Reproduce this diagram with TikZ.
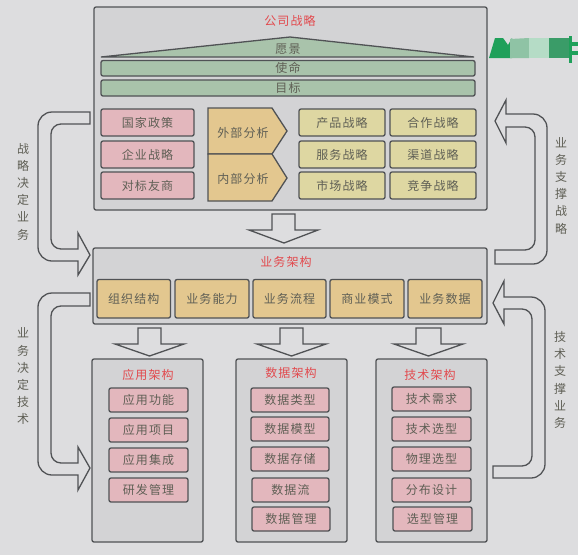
\documentclass[tikz,border=0pt]{standalone}
\usepackage{fontspec}
\setmainfont[LetterSpace=9]{Noto Sans CJK SC}
\definecolor{bgc}{HTML}{DDDDDF}
\definecolor{panelc}{HTML}{D3D3D5}
\definecolor{linec}{HTML}{505255}
\definecolor{pinkc}{HTML}{E3B7BD}
\definecolor{greenc}{HTML}{A9C3AB}
\definecolor{orangec}{HTML}{E3C78F}
\definecolor{yellowc}{HTML}{DED7A2}
\definecolor{textc}{HTML}{5F5F55}
\definecolor{redc}{HTML}{E2494D}
\definecolor{wma}{HTML}{1FA05A}
\definecolor{wmb}{HTML}{8FC3A5}
\definecolor{wmc}{HTML}{B5DCC6}
\definecolor{wmd}{HTML}{3A9C68}
\tikzset{
  x=1pt,y=-1pt,
  base/.style={draw=linec,line width=1.3pt,rounded corners=2pt,inner sep=0pt,text=textc,font=\fontsize{12}{13}\selectfont},
  panel/.style={base,fill=panelc},
  pinkbox/.style={base,fill=pinkc},
  greenbar/.style={base,fill=greenc},
  orangebox/.style={base,fill=orangec},
  yellowbox/.style={base,fill=yellowc},
  labeltext/.style={text=textc,inner sep=0pt,font=\fontsize{12}{13}\selectfont},
  titletext/.style={text=redc,inner sep=0pt,font=\fontsize{12}{13}\selectfont},
  sidetext/.style={text=textc,inner sep=0pt,align=center,font=\fontsize{12}{17.2}\selectfont},
  blockarrow/.style={draw=linec,line width=1.3pt,fill=bgc,line join=miter},
}
% name, style, x1, y1, x2, y2, text
\newcommand{\bx}[7]{\node[#2,minimum width=#5pt-#3pt,minimum height=#6pt-#4pt] (#1) at ({(#3+#5)/2},{(#4+#6)/2}) {#7};}
% stem left, stem right, head left, head right, tip x, top, shoulder, tip y
\newcommand{\downarr}[8]{\draw[blockarrow] (#1,#6)--(#2,#6)--(#2,#7)--(#4,#7)--(#5,#8)--(#3,#7)--(#1,#7)--cycle;}
% curved arrow pointing right: tail x, outer top, inner top, outer x, inner x, inner bottom, outer bottom, head x, head top, tip x, tip y, head bottom
\newcommand{\rightcurve}[9]{\def\argA{#1}\def\argB{#2}\def\argC{#3}\def\argD{#4}\def\argE{#5}\def\argF{#6}\def\argG{#7}\def\argH{#8}\def\argI{#9}\rightcurveB}
\newcommand{\rightcurveB}[3]{\draw[blockarrow] (\argA,\argB) -- (\argD+14,\argB) to[out=180,in=90,looseness=1] (\argD,\argB+14) -- (\argD,\argG-14) to[out=-90,in=180] (\argD+14,\argG) -- (\argH,\argG) -- (\argH,#3) -- (#1,#2) -- (\argH,\argI) -- (\argH,\argF) -- (\argE+10,\argF) to[out=180,in=-90] (\argE,\argF-10) -- (\argE,\argC+10) to[out=90,in=180] (\argE+10,\argC) -- (\argA,\argC) -- cycle;}
\newcommand{\leftcurve}[9]{\def\argA{#1}\def\argB{#2}\def\argC{#3}\def\argD{#4}\def\argE{#5}\def\argF{#6}\def\argG{#7}\def\argH{#8}\def\argI{#9}\leftcurveB}
\newcommand{\leftcurveB}[3]{\draw[blockarrow] (\argA,\argG) -- (\argD-14,\argG) to[out=0,in=-90] (\argD,\argG-14) -- (\argD,\argB+14) to[out=90,in=0] (\argD-14,\argB) -- (\argH,\argB) -- (\argH,\argI) -- (#1,#2) -- (\argH,#3) -- (\argH,\argC) -- (\argE-10,\argC) to[out=0,in=90] (\argE,\argC+10) -- (\argE,\argF-10) to[out=-90,in=0] (\argE-10,\argF) -- (\argA,\argF) -- cycle;}
\begin{document}
\begin{tikzpicture}
\useasboundingbox (0,0) rectangle (578,555);
\fill[bgc] (0,0) rectangle (578,555);
% watermark fragment
\fill[wma] (489,58)--(495,38)--(503,38)--(508,45)--(512,38)--(512,58)--cycle;
\fill[wmb] (510,39)--(529,38)--(529,58)--(510,58)--cycle;
\fill[wmc] (529,38)--(549,38)--(549,58)--(529,58)--cycle;
\fill[wmd] (549,38)--(569,38)--(569,58)--(549,58)--cycle;
\fill[wma] (569,36) rectangle (572,63);
\fill[wma] (572,42) rectangle (578,46);
\fill[wma] (572,51) rectangle (578,55);

% top panel
\bx{company}{panel}{94}{7}{487}{210}{}
\node[titletext] (companyT) at (290,21) {公司战略};
\draw[base,fill=greenc,rounded corners=0pt] (101,57)--(290,37)--(474,57)--cycle;
\node[labeltext] (vision) at (288,49) {愿景};
\bx{mission}{greenbar}{101}{60.5}{475}{76}{使命}
\bx{goal}{greenbar}{101}{80}{475}{96}{目标}
\bx{p1}{pinkbox}{101}{109}{194}{136}{国家政策}
\bx{p2}{pinkbox}{101}{141}{194}{168}{企业战略}
\bx{p3}{pinkbox}{101}{172}{194}{199}{对标友商}
\draw[base,fill=orangec,rounded corners=0pt] (208,108)--(272,108)--(287,131)--(272,154)--(208,154)--cycle;
\draw[base,fill=orangec,rounded corners=0pt] (208,154)--(272,154)--(287,178)--(272,201)--(208,201)--cycle;
\node[labeltext] (ext) at (243,133) {外部分析};
\node[labeltext] (int) at (243,179) {内部分析};
\bx{y1}{yellowbox}{299}{109}{385}{136}{产品战略}
\bx{y2}{yellowbox}{299}{141}{385}{168}{服务战略}
\bx{y3}{yellowbox}{299}{172}{385}{199}{市场战略}
\bx{y4}{yellowbox}{390}{109}{476}{136}{合作战略}
\bx{y5}{yellowbox}{390}{141}{476}{168}{渠道战略}
\bx{y6}{yellowbox}{390}{172}{476}{199}{竞争战略}

\downarr{272}{295}{249}{318}{284}{214}{230}{243}

% middle panel
\bx{business}{panel}{93}{248}{487}{324}{}
\node[titletext] (businessT) at (286,262) {业务架构};
\bx{b1}{orangebox}{97}{279.5}{170.5}{318}{组织结构}
\bx{b2}{orangebox}{175}{279.5}{249}{318}{业务能力}
\bx{b3}{orangebox}{253}{279.5}{326}{318}{业务流程}
\bx{b4}{orangebox}{330}{279.5}{404}{318}{商业模式}
\bx{b5}{orangebox}{408}{279.5}{482}{318}{业务数据}

\downarr{138}{161}{115}{184}{149.5}{328}{344}{356}
\downarr{280}{303}{257}{326}{291.5}{328}{344}{356}
\downarr{416}{441}{394}{463}{428.5}{328}{344}{356}

% application
\bx{app}{panel}{92}{359}{203}{542}{}
\node[titletext] (appT) at (148,375) {应用架构};
\bx{a1}{pinkbox}{109}{388}{188}{412}{应用功能}
\bx{a2}{pinkbox}{109}{418}{188}{442}{应用项目}
\bx{a3}{pinkbox}{109}{448}{188}{472}{应用集成}
\bx{a4}{pinkbox}{109}{478}{188}{502}{研发管理}
% data
\bx{data}{panel}{236}{359}{347}{542}{}
\node[titletext] (dataT) at (291,373) {数据架构};
\bx{d1}{pinkbox}{251}{388}{329}{412}{数据类型}
\bx{d2}{pinkbox}{251}{417}{329}{441}{数据模型}
\bx{d3}{pinkbox}{251}{447}{329}{471}{数据存储}
\bx{d4}{pinkbox}{252}{478}{329}{502}{数据流}
\bx{d5}{pinkbox}{252}{507}{330}{531}{数据管理}
% tech
\bx{tech}{panel}{376}{359}{487}{542}{}
\node[titletext] (techT) at (430,375) {技术架构};
\bx{t1}{pinkbox}{392}{387}{471}{411}{技术需求}
\bx{t2}{pinkbox}{392}{417}{471}{441}{技术选型}
\bx{t3}{pinkbox}{392}{447}{471}{471}{物理选型}
\bx{t4}{pinkbox}{392}{478}{471}{502}{分布设计}
\bx{t5}{pinkbox}{393}{507}{472}{531}{选型管理}

% curved arrows
\rightcurve{90}{112}{124}{38}{51}{249}{261}{78}{233}{90}{255}{275}
\rightcurve{90}{293}{306}{38}{51}{463}{475}{78}{447}{90}{468}{490}
\leftcurve{495}{114}{127}{547}{535}{250}{264}{506}{100}{495}{121}{143}
\leftcurve{493}{297}{309}{545}{532}{466}{478}{504}{281}{493}{303}{324}

% side labels
\node[sidetext] (s1) at (23,191.5) {战\\略\\决\\定\\业\\务};
\node[sidetext] (s2) at (23,376.5) {业\\务\\决\\定\\技\\术};
\node[sidetext] (s3) at (561,185.5) {业\\务\\支\\撑\\战\\略};
\node[sidetext] (s4) at (560,380) {技\\术\\支\\撑\\业\\务};
\end{tikzpicture}
\end{document}
